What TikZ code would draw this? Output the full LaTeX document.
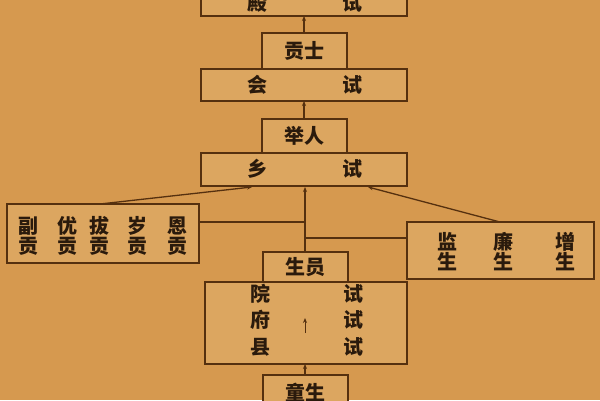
\documentclass[tikz,border=0pt]{standalone}
\usepackage{fontspec}
\setmainfont{Noto Sans CJK SC}[BoldFont={Noto Sans CJK SC Black}]
\usetikzlibrary{arrows.meta}
\definecolor{bg}{HTML}{D6994F}
\definecolor{boxfill}{HTML}{DCA660}
\definecolor{ink}{HTML}{55300F}
\definecolor{txt}{HTML}{2A1A0C}
\begin{document}
\begin{tikzpicture}[x=1pt,y=-1pt,
  frame/.style={draw=ink,line width=1.6pt,fill=boxfill},
  lab/.style={text=txt,font=\fontsize{20}{22}\selectfont\bfseries,inner sep=0pt},
  conn/.style={draw=ink,line width=1.3pt},
  arr/.style={conn,-{Stealth[length=5pt,width=4pt]}}]
\fill[bg] (0,0) rectangle (600,400);
\useasboundingbox (0,0) rectangle (600,400);
% boxes
\path[frame] (201,-5) rectangle (407,16);
\node[lab] (dian) at (257,3) {殿};
\node[lab] (dianshi) at (352,3) {试};
\coordinate (dianB) at (304,16);

\path[frame] (262,33) rectangle (347,69);
\node[lab] (gongshi) at (304,51) {贡士};
\coordinate (gongT) at (304,33);
\path[frame] (201,69) rectangle (407,101);
\node[lab] (hui) at (257,85) {会};
\node[lab] (huishi) at (352,85) {试};
\coordinate (huiB) at (304,101);

\path[frame] (262,119) rectangle (347,153);
\node[lab] (juren) at (304,136) {举人};
\coordinate (juT) at (304,119);
\path[frame] (201,153) rectangle (407,186);
\node[lab] (xiang) at (257,169) {乡};
\node[lab] (xiangshi) at (352,169) {试};
\coordinate (xiangBL) at (252,187);
\coordinate (xiangBM) at (305,187);
\coordinate (xiangBR) at (368,187);

% left box
\path[frame] (7,204) rectangle (199,263);
\foreach \x/\c [count=\i] in {28/副,67/优,99/拔,137/岁,177/恩}{
  \node[lab] (lt\i) at (\x,226) {\c};
  \node[lab] (lb\i) at (\x,246) {贡};
}
\coordinate (leftT) at (100,204);
\coordinate (leftR) at (199,222);

% right box
\path[frame] (407,222) rectangle (594,279);
\foreach \x/\c [count=\i] in {447/监,503/廉,565/增}{
  \node[lab] (rt\i) at (\x,242) {\c};
  \node[lab] (rb\i) at (\x,262) {生};
}
\coordinate (rightT) at (500,222);
\coordinate (rightL) at (407,238);

% shengyuan
\path[frame] (263,252) rectangle (348,282);
\node[lab] (shengyuan) at (305,267) {生员};
\coordinate (syT) at (305,252);
\path[frame] (205,282) rectangle (407,364);
\node[lab] (yuan) at (260,294) {院};
\node[lab] (fu) at (260,320) {府};
\node[lab] (xian) at (260,347) {县};
\node[lab] (s1) at (353,294) {试};
\node[lab] (s2) at (353,320) {试};
\node[lab] (s3) at (353,347) {试};
\coordinate (ia) at (305,333);
\coordinate (ib) at (305,318);
\coordinate (lowB) at (305,364);

% tongsheng
\path[frame] (263,375) rectangle (348,410);
\node[lab] (tongsheng) at (305,393) {童生};
\coordinate (tsT) at (305,375);

% connectors
\draw[arr] (gongT) -- (dianB);
\draw[arr] (juT) -- (huiB);
\draw[arr] (syT) -- (xiangBM);
\draw[arr] (leftT) -- (xiangBL);
\draw[arr] (rightT) -- (xiangBR);
\coordinate (jl) at (305,222);
\coordinate (jr) at (305,238);
\draw[conn] (leftR) -- (jl);
\draw[conn] (rightL) -- (jr);
\draw[arr,line width=1pt] (ia) -- (ib);
\draw[arr] (tsT) -- (lowB);
\end{tikzpicture}
\end{document}
